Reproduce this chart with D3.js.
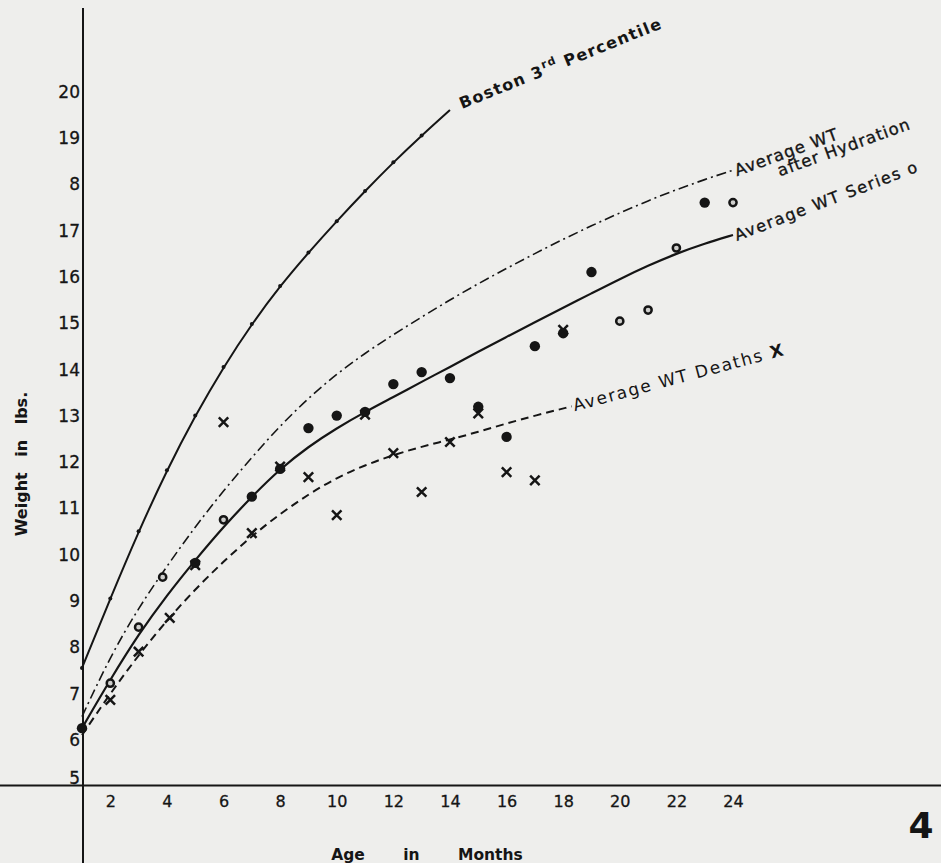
<!DOCTYPE html>
<html>
<head>
<meta charset="utf-8">
<script src="https://cdn.jsdelivr.net/npm/d3@7"></script>
<style>
  html, body { margin: 0; padding: 0; background: #eeeeec; }
  svg { display: block; }
  text { font-family: "DejaVu Sans", sans-serif; fill: #151515; }
</style>
</head>
<body>
<svg id="chart"></svg>
<script>
// curves (age in months, weight in lbs.)
const months = [1, 2, 3, 4, 5, 6, 7, 8, 9, 10, 11, 12, 13, 14, 15, 16, 17, 18, 19, 20, 21, 22, 23, 24];
const bostonMonths = [1, 2, 3, 4, 5, 6, 7, 8, 9, 10, 11, 12, 13, 14];
const bostonWt = [7.55, 9.05, 10.5, 11.82, 13.0, 14.05, 14.98, 15.8, 16.52, 17.2, 17.85, 18.47, 19.05, 19.6];
const hydrationWt = [6.5, 7.8, 8.85, 9.75, 10.6, 11.38, 12.1, 12.78, 13.38, 13.9, 14.35, 14.75, 15.13, 15.5, 15.85, 16.18, 16.5, 16.81, 17.1, 17.38, 17.64, 17.88, 18.1, 18.3];
const seriesWt = [6.25, 7.3, 8.28, 9.12, 9.88, 10.6, 11.25, 11.85, 12.33, 12.73, 13.08, 13.4, 13.73, 14.05, 14.38, 14.7, 15.02, 15.33, 15.64, 15.95, 16.24, 16.5, 16.72, 16.9];
const deathMonths = [1, 2, 3, 4, 5, 6, 7, 8, 9, 10, 11, 12, 13, 14, 15, 16, 17, 18.3];
const deathWt = [6.1, 7.0, 7.83, 8.58, 9.25, 9.85, 10.4, 10.88, 11.3, 11.66, 11.93, 12.15, 12.33, 12.48, 12.65, 12.83, 13.0, 13.2];

// plotted cases
const filledDots = [[1, 6.25], [5, 9.82], [7, 11.25], [8, 11.85], [9, 12.73], [10, 13.0], [11, 13.08], [12, 13.68],
  [13, 13.94], [14, 13.81], [15, 13.19], [16, 12.54], [17, 14.5], [18, 14.78], [19, 16.1], [23, 17.6]];
const openDots = [[2, 7.22], [3, 8.43], [3.85, 9.51], [6, 10.75], [20, 15.04], [21, 15.28], [22, 16.62], [24, 17.6]];
const crosses = [[2, 6.86], [3, 7.9], [4.1, 8.63], [5, 9.77], [6, 12.86], [7, 10.46], [8, 11.9], [9, 11.67], [10, 10.85],
  [11, 13.02], [12, 12.19], [13, 11.35], [14, 12.43], [15, 13.05], [16, 11.78], [17, 11.6], [18, 14.85]];

const xTicks = [2, 4, 6, 8, 10, 12, 14, 16, 18, 20, 22, 24];
const yTicks = [5, 6, 7, 8, 9, 10, 11, 12, 13, 14, 15, 16, 17, 18, 19, 20];
const yTickLabels = ["5", "6", "7", "8", "9", "10", "11", "12", "13", "14", "15", "16", "17", "8", "19", "20"];

const width = 941, height = 863;
const svg = d3.select("#chart").attr("width", width).attr("height", height);

const x = d3.scaleLinear().domain([1, 24]).range([82, 733]);
const y = d3.scaleLinear().domain([5, 20]).range([786, 91.5]);
const ink = "#151515";

// axes lines run across the whole sheet
svg.append("line").attr("x1", 0).attr("x2", width).attr("y1", 785.5).attr("y2", 785.5)
  .attr("stroke", ink).attr("stroke-width", 2);
svg.append("line").attr("x1", 83).attr("x2", 83).attr("y1", 8).attr("y2", height)
  .attr("stroke", ink).attr("stroke-width", 2);

svg.append("g")
  .attr("transform", "translate(0,786)")
  .call(d3.axisBottom(x).tickValues(xTicks).tickSize(0).tickPadding(10))
  .call(g => g.select(".domain").remove())
  .selectAll("text")
  .attr("font-family", "DejaVu Sans").attr("font-size", 16).attr("fill", ink)
  .attr("stroke", ink).attr("stroke-width", 0.3);

svg.append("g")
  .attr("transform", "translate(83,0)")
  .call(d3.axisLeft(y).tickValues(yTicks).tickFormat((d, i) => yTickLabels[i]).tickSize(0).tickPadding(3))
  .call(g => g.select(".domain").remove())
  .selectAll("text")
  .attr("font-family", "DejaVu Sans").attr("font-size", 17).attr("fill", ink)
  .attr("stroke", ink).attr("stroke-width", 0.3)
  .attr("dy", d => d === 5 ? "-0.15em" : "0.34em");

const line = d3.line().x(d => x(d[0])).y(d => y(d[1])).curve(d3.curveBasis);
const zip = (a, b) => a.map((v, i) => [v, b[i]]);

svg.append("path").datum(zip(bostonMonths, bostonWt))
  .attr("d", line).attr("fill", "none").attr("stroke", ink).attr("stroke-width", 2);
svg.append("path").datum(zip(months, hydrationWt))
  .attr("d", line).attr("fill", "none").attr("stroke", ink).attr("stroke-width", 1.6)
  .attr("stroke-dasharray", "10,4,2,4");
svg.append("path").datum(zip(months, seriesWt))
  .attr("d", line).attr("fill", "none").attr("stroke", ink).attr("stroke-width", 2.2);
svg.append("path").datum(zip(deathMonths, deathWt))
  .attr("d", line).attr("fill", "none").attr("stroke", ink).attr("stroke-width", 2)
  .attr("stroke-dasharray", "8,5");

// little marks along the Boston curve
svg.append("g").selectAll("circle")
  .data(zip(bostonMonths, bostonWt).slice(0, 13))
  .join("circle")
  .attr("cx", d => x(d[0])).attr("cy", d => y(d[1])).attr("r", 2).attr("fill", ink);

svg.append("g").selectAll("circle")
  .data(filledDots)
  .join("circle")
  .attr("cx", d => x(d[0])).attr("cy", d => y(d[1])).attr("r", 5.2).attr("fill", ink);

svg.append("g").selectAll("circle")
  .data(openDots)
  .join("circle")
  .attr("cx", d => x(d[0])).attr("cy", d => y(d[1])).attr("r", 3.6)
  .attr("fill", "#cfcfcd").attr("stroke", ink).attr("stroke-width", 2.5);

svg.append("g").selectAll("path")
  .data(crosses)
  .join("path")
  .attr("transform", d => `translate(${x(d[0])},${y(d[1])})`)
  .attr("d", d3.symbol(d3.symbolTimes, 60))
  .attr("fill", "none").attr("stroke", ink).attr("stroke-width", 2.5);

// curve labels
function curveLabel(px, py, angle) {
  return svg.append("g").attr("transform", `translate(${px},${py}) rotate(${angle})`);
}

const bEnd = [x(bostonMonths[bostonMonths.length - 1]), y(bostonWt[bostonWt.length - 1])];
const bLab = curveLabel(bEnd[0] + 12, bEnd[1] - 1, -22).append("text")
  .attr("font-size", 16).attr("font-weight", "bold").attr("letter-spacing", 1.3);
bLab.append("tspan").text("Boston 3");
bLab.append("tspan").attr("font-size", 11).attr("dy", -7).text("rd");
bLab.append("tspan").attr("dy", 7).text(" Percentile");

const hEnd = [x(24), y(hydrationWt[hydrationWt.length - 1])];
const hLab = curveLabel(hEnd[0] + 4, hEnd[1] + 6, -20);
hLab.append("text").attr("font-size", 16.5).attr("letter-spacing", 1)
  .attr("stroke", ink).attr("stroke-width", 0.35).text("Average WT");
hLab.append("text").attr("x", 40).attr("y", 15).attr("font-size", 16.5).attr("letter-spacing", 1)
  .attr("stroke", ink).attr("stroke-width", 0.35).text("after Hydration");

const sEnd = [x(24), y(seriesWt[seriesWt.length - 1])];
curveLabel(sEnd[0] + 4, sEnd[1] + 6, -21).append("text")
  .attr("font-size", 16).attr("letter-spacing", 1.6)
  .attr("stroke", ink).attr("stroke-width", 0.35).text("Average WT  Series o");

const dEnd = [x(deathMonths[deathMonths.length - 1]), y(deathWt[deathWt.length - 1])];
const dLab = curveLabel(dEnd[0] + 3, dEnd[1] + 5, -15).append("text")
  .attr("font-size", 17).attr("letter-spacing", 1.7);
dLab.append("tspan").text("Average WT  Deaths ");
dLab.append("tspan").attr("font-weight", "bold").text("X");

// axis titles
svg.append("text")
  .attr("transform", "translate(27,464) rotate(-90)")
  .attr("text-anchor", "middle").attr("font-size", 16).attr("font-weight", "bold")
  .attr("word-spacing", 10).text("Weight in lbs.");

svg.append("text")
  .attr("x", 427).attr("y", 860)
  .attr("text-anchor", "middle").attr("font-size", 15.5).attr("font-weight", "bold")
  .attr("word-spacing", 33).text("Age in Months");

svg.append("text")
  .attr("x", 921).attr("y", 838)
  .attr("text-anchor", "middle").attr("font-size", 36).attr("font-weight", "bold")
  .text("4");
</script>
</body>
</html>
